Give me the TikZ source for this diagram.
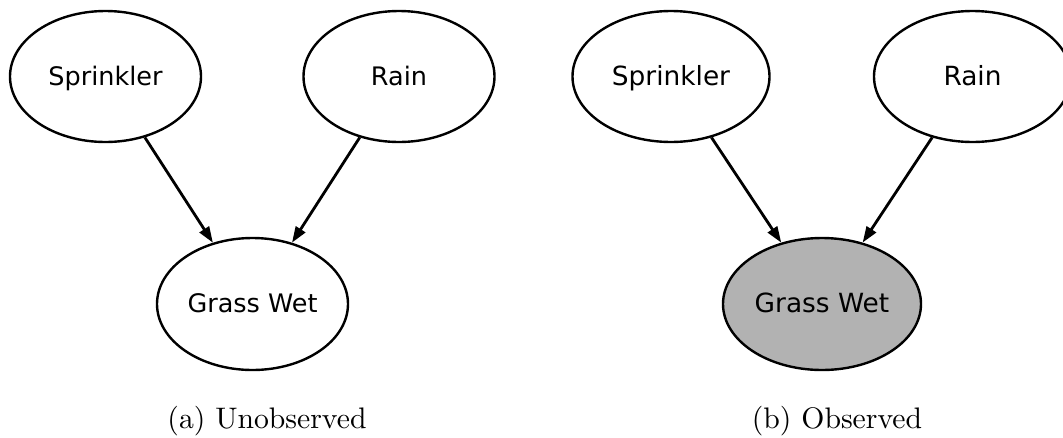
\documentclass[tikz,border=0pt]{standalone}
\usepackage{fontspec}
\newfontfamily\dejavu{DejaVu Sans}
\usetikzlibrary{shapes.geometric,arrows.meta}
\tikzset{
  var/.style={ellipse, draw, line width=2.4pt, inner sep=0pt, minimum height=131pt, text height=20pt, text depth=3pt, font=\dejavu\fontsize{25.5}{30}\selectfont},
  varb/.style={var, font=\dejavu\fontsize{26.4}{30}\selectfont},
  obs/.style={fill=gray!60},
  edge/.style={line width=2.8pt, -{Triangle[length=16pt,width=11pt]}},
  captext/.style={anchor=base, inner sep=0pt, scale=2.97, font=\normalsize}
}
\begin{document}
\begin{tikzpicture}[x=1pt,y=-1pt]
\useasboundingbox (0,0) rectangle (1063,437);
\clip (0,0) rectangle (1063,437);
% (a)
\node[var, minimum width=191pt] (s1) at (105.5,76.5) {Sprinkler};
\node[var, minimum width=191pt] (r1) at (399,76.5) {Rain};
\node[var, minimum width=191pt, minimum height=132pt] (g1) at (252.5,304) {Grass Wet};
\draw[edge] (s1) -- (g1);
\draw[edge] (r1) -- (g1);
\node[captext] (c1) at (267,428) {(a) Unobserved};
% (b)
\node[varb, minimum width=197pt] (s2) at (671,76.5) {Sprinkler};
\node[varb, minimum width=197pt] (r2) at (972.5,76.5) {Rain};
\node[varb, obs, minimum width=198pt, minimum height=132pt] (g2) at (822,304) {Grass Wet};
\draw[edge] (s2) -- (g2);
\draw[edge] (r2) -- (g2);
\node[captext] (c2) at (837,428) {(b) Observed};
\end{tikzpicture}
\end{document}
